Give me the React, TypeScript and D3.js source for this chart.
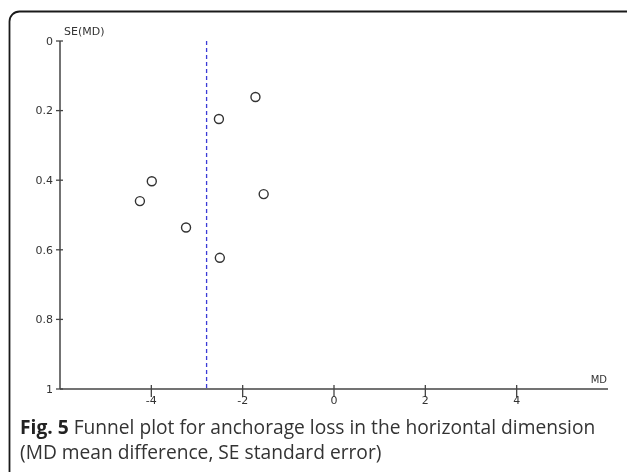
import { useEffect, useRef } from 'react'
import * as d3 from 'd3'

// studies: mean difference and its standard error
const studyMD = [-1.72, -2.52, -3.99, -1.54, -4.25, -3.24, -2.5]
const studySE = [0.161, 0.224, 0.403, 0.44, 0.46, 0.536, 0.623]
const pooledMD = -2.79
const xTicks = [-4, -2, 0, 2, 4]
const yTicks = [0, 0.2, 0.4, 0.6, 0.8, 1]

export default function App() {
  const svgRef = useRef<SVGSVGElement>(null)

  useEffect(() => {
    if (!svgRef.current) return
    const svg = d3.select(svgRef.current)
    svg.selectAll('*').remove()

    const width = 627
    const height = 472

    svg.attr('width', width).attr('height', height)

    // outer frame (only top and left edges visible)
    svg.append('rect')
      .attr('x', 9.5)
      .attr('y', 11.5)
      .attr('width', 700)
      .attr('height', 520)
      .attr('rx', 10)
      .attr('fill', '#fff')
      .attr('stroke', '#1a1a1a')
      .attr('stroke-width', 1.8)

    const x = d3.scaleLinear().domain([-6, 6]).range([60, 608])
    const y = d3.scaleLinear().domain([0, 1]).range([41, 389])

    const axisColor = '#444'
    const font = 'DejaVu Sans, Verdana, sans-serif'

    // axes lines
    svg.append('line')
      .attr('x1', x(-6)).attr('x2', x(-6))
      .attr('y1', y(0)).attr('y2', y(1))
      .attr('stroke', axisColor).attr('stroke-width', 1.5)
    svg.append('line')
      .attr('x1', x(-6)).attr('x2', x(6))
      .attr('y1', y(1)).attr('y2', y(1))
      .attr('stroke', axisColor).attr('stroke-width', 1.5)

    // y ticks
    const yt = svg.append('g')
    yt.selectAll('line')
      .data(yTicks)
      .enter()
      .append('line')
      .attr('x1', x(-6) - 4).attr('x2', x(-6) + 3)
      .attr('y1', d => y(d)).attr('y2', d => y(d))
      .attr('stroke', axisColor).attr('stroke-width', 1.3)
    yt.selectAll('text')
      .data(yTicks)
      .enter()
      .append('text')
      .attr('x', x(-6) - 7)
      .attr('y', d => y(d))
      .attr('dy', '0.35em')
      .attr('text-anchor', 'end')
      .style('font-family', font)
      .style('font-size', '11px')
      .style('fill', '#333')
      .text(d => String(d))

    // x ticks
    const xt = svg.append('g')
    xt.selectAll('line')
      .data(xTicks)
      .enter()
      .append('line')
      .attr('x1', d => x(d)).attr('x2', d => x(d))
      .attr('y1', y(1) - 4).attr('y2', y(1) + 8)
      .attr('stroke', axisColor).attr('stroke-width', 1.3)
    xt.selectAll('text')
      .data(xTicks)
      .enter()
      .append('text')
      .attr('x', d => x(d))
      .attr('y', y(1) + 15)
      .attr('text-anchor', 'middle')
      .style('font-family', font)
      .style('font-size', '11px')
      .style('fill', '#333')
      .text(d => String(d))

    // axis titles
    svg.append('text')
      .attr('x', x(-6) + 4)
      .attr('y', y(0) - 6)
      .style('font-family', font)
      .style('font-size', '11px')
      .style('fill', '#333')
      .text('SE(MD)')
    svg.append('text')
      .attr('x', x(6) - 1)
      .attr('y', y(1) - 6)
      .attr('text-anchor', 'end')
      .style('font-family', font)
      .style('font-size', '10px')
      .style('fill', '#333')
      .text('MD')

    // pooled estimate line
    svg.append('line')
      .attr('x1', x(pooledMD)).attr('x2', x(pooledMD))
      .attr('y1', y(0)).attr('y2', y(1))
      .attr('stroke', '#3b3bd6')
      .attr('stroke-width', 1.3)
      .attr('stroke-dasharray', '4,3')

    // studies
    svg.append('g')
      .selectAll('circle')
      .data(studyMD.map((md, i) => ({ md, se: studySE[i] })))
      .enter()
      .append('circle')
      .attr('cx', d => x(d.md))
      .attr('cy', d => y(d.se))
      .attr('r', 4.5)
      .attr('fill', 'none')
      .attr('stroke', '#333')
      .attr('stroke-width', 1.4)

    // caption
    const cap = svg.append('text')
      .attr('x', 20)
      .attr('y', 434)
      .style('font-family', 'Open Sans, Noto Sans, sans-serif')
      .style('font-size', '19.2px')
      .style('fill', '#333')
    cap.append('tspan').style('font-weight', 'bold').style('fill', '#222').text('Fig. 5')
    cap.append('tspan').text(' Funnel plot for anchorage loss in the horizontal dimension')
    svg.append('text')
      .attr('x', 20)
      .attr('y', 459)
      .style('font-family', 'Open Sans, Noto Sans, sans-serif')
      .style('font-size', '19.2px')
      .style('fill', '#333')
      .text('(MD mean difference, SE standard error)')
  }, [])

  return (
    <div style={{ position: 'fixed', top: 0, left: 0 }}>
      <svg ref={svgRef} style={{ display: 'block' }} />
    </div>
  )
}
